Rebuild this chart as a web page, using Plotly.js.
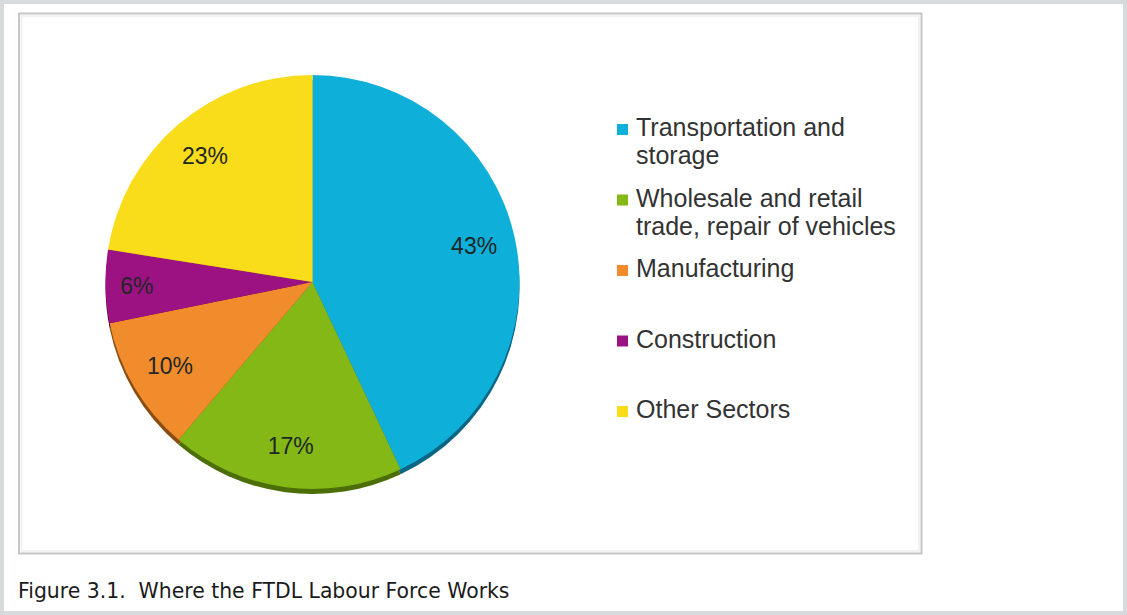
<!DOCTYPE html>
<html>
<head>
<meta charset="utf-8">
<script src="https://cdn.plot.ly/plotly-3.0.1.min.js"></script>
<style>
html,body{margin:0;padding:0;background:#fff;}
#chart{width:1127px;height:615px;}
</style>
</head>
<body>
<div id="chart"></div>
<script>
// ---- data ----
const categories = ["Transportation and storage", "Wholesale and retail trade, repair of vehicles", "Manufacturing", "Construction", "Other Sectors"];
const legendLines = [["Transportation and", "storage"], ["Wholesale and retail", "trade, repair of vehicles"], ["Manufacturing"], ["Construction"], ["Other Sectors"]];
const shares = [43.0, 18.2, 10.6, 5.7, 22.5];
const shareLabels = ["43%", "17%", "10%", "6%", "23%"];
const colors = ["#0eafd8", "#84b817", "#f08c2c", "#9c1282", "#f9dc1a"];
const shadowColors = ["#0a6684", "#4c6e08", "#8a4c12", "#5a0a4a", "#9a8610"];
const caption = "Figure 3.1.  Where the FTDL Labour Force Works";

// ---- geometry (pixels) ----
const W = 1127, H = 615;
const cx = 312.5, cy = 282, R = 207;
function dom(cxp, cyp, r) {
  return {x: [(cxp - r) / W, (cxp + r) / W], y: [(H - cyp - r) / H, (H - cyp + r) / H]};
}

const common = {type: 'pie', labels: categories, values: shares, sort: false, direction: 'clockwise', rotation: 0, showlegend: false};

const shadow = Object.assign({}, common, {
  domain: dom(cx, cy + 5, R),
  marker: {colors: shadowColors, line: {width: 0}},
  textinfo: 'none', hoverinfo: 'skip'
});
const main = Object.assign({}, common, {
  domain: dom(cx, cy, R),
  marker: {colors: colors, line: {width: 0}},
  textinfo: 'none', hoverinfo: 'label+percent'
});
const ring = Object.assign({}, common, {
  domain: dom(cx, cy, R),
  hole: 0.6,
  marker: {colors: colors.map(() => 'rgba(0,0,0,0)'), line: {width: 0}},
  text: shareLabels, textinfo: 'text', textposition: 'inside',
  insidetextorientation: 'horizontal',
  insidetextfont: {family: 'Liberation Sans, Arial, sans-serif', size: 23, color: '#1f2626'},
  hoverinfo: 'skip'
});

const shapes = [
  // outer frame
  {type: 'rect', xref: 'x', yref: 'y', x0: 2, y0: 2, x1: 1125, y1: 613, line: {color: '#d8dbde', width: 4}},
  // inner chart box
  {type: 'rect', xref: 'x', yref: 'y', x0: 19, y0: 13.5, x1: 921.5, y1: 553.5, line: {color: '#c6c6c6', width: 2}},
  {type: 'rect', xref: 'x', yref: 'y', x0: 21.5, y0: 16, x1: 919, y1: 551, line: {color: '#eeeeee', width: 1.5}}
];
const annotations = [];
legendLines.forEach((lines, i) => {
  const base = 135 + 70.5 * i;
  shapes.push({type: 'rect', xref: 'x', yref: 'y', x0: 617, x1: 628, y0: base - 11, y1: base, fillcolor: colors[i], line: {width: 0}});
  lines.forEach((t, j) => {
    annotations.push({xref: 'x', yref: 'y', x: 634, y: base + 28 * j - 8, text: t, showarrow: false,
      xanchor: 'left', yanchor: 'middle', font: {family: 'Liberation Sans, Arial, sans-serif', size: 25, color: '#333333'}});
  });
});
annotations.push({xref: 'x', yref: 'y', x: 16, y: 591, text: caption, showarrow: false, xanchor: 'left', yanchor: 'middle',
  font: {family: 'DejaVu Sans, sans-serif', size: 20.4, color: '#1a1a1a'}});

const layout = {
  width: W, height: H, margin: {l: 0, r: 0, t: 0, b: 0},
  paper_bgcolor: '#ffffff', plot_bgcolor: 'rgba(0,0,0,0)',
  xaxis: {range: [0, W], visible: false, fixedrange: true},
  yaxis: {range: [H, 0], visible: false, fixedrange: true},
  showlegend: false, shapes: shapes, annotations: annotations
};
Plotly.newPlot('chart', [shadow, main, ring], layout, {displayModeBar: false, staticPlot: true});
</script>
</body>
</html>
